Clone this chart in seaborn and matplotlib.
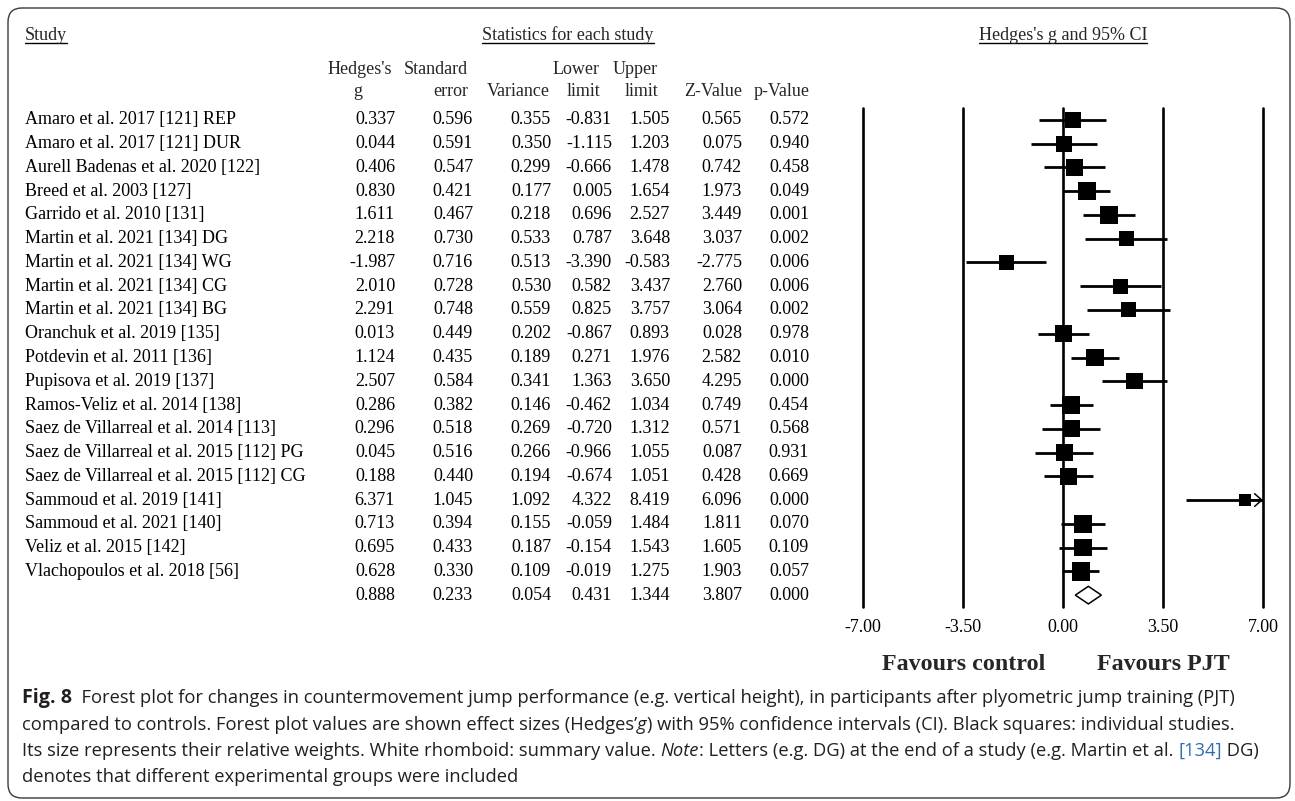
import numpy as np
import pandas as pd
import matplotlib
matplotlib.use("Agg")
import matplotlib.pyplot as plt
import seaborn as sns
from matplotlib.patches import FancyBboxPatch, Polygon
from matplotlib.lines import Line2D
from matplotlib.transforms import blended_transform_factory

studies = [
    "Amaro et al. 2017 [121] REP",
    "Amaro et al. 2017 [121] DUR",
    "Aurell Badenas et al. 2020 [122]",
    "Breed et al. 2003 [127]",
    "Garrido et al. 2010 [131]",
    "Martin et al. 2021 [134] DG",
    "Martin et al. 2021 [134] WG",
    "Martin et al. 2021 [134] CG",
    "Martin et al. 2021 [134] BG",
    "Oranchuk et al. 2019 [135]",
    "Potdevin et al. 2011 [136]",
    "Pupisova et al. 2019 [137]",
    "Ramos-Veliz et al. 2014 [138]",
    "Saez de Villarreal et al. 2014 [113]",
    "Saez de Villarreal et al. 2015 [112] PG",
    "Saez de Villarreal et al. 2015 [112] CG",
    "Sammoud et al. 2019 [141]",
    "Sammoud et al. 2021 [140]",
    "Veliz et al. 2015 [142]",
    "Vlachopoulos et al. 2018 [56]",
]
hedges_g = [0.337, 0.044, 0.406, 0.830, 1.611, 2.218, -1.987, 2.010, 2.291, 0.013,
            1.124, 2.507, 0.286, 0.296, 0.045, 0.188, 6.371, 0.713, 0.695, 0.628]
std_err = [0.596, 0.591, 0.547, 0.421, 0.467, 0.730, 0.716, 0.728, 0.748, 0.449,
           0.435, 0.584, 0.382, 0.518, 0.516, 0.440, 1.045, 0.394, 0.433, 0.330]
variance = [0.355, 0.350, 0.299, 0.177, 0.218, 0.533, 0.513, 0.530, 0.559, 0.202,
            0.189, 0.341, 0.146, 0.269, 0.266, 0.194, 1.092, 0.155, 0.187, 0.109]
lower = [-0.831, -1.115, -0.666, 0.005, 0.696, 0.787, -3.390, 0.582, 0.825, -0.867,
         0.271, 1.363, -0.462, -0.720, -0.966, -0.674, 4.322, -0.059, -0.154, -0.019]
upper = [1.505, 1.203, 1.478, 1.654, 2.527, 3.648, -0.583, 3.437, 3.757, 0.893,
         1.976, 3.650, 1.034, 1.312, 1.055, 1.051, 8.419, 1.484, 1.543, 1.275]
z_value = [0.565, 0.075, 0.742, 1.973, 3.449, 3.037, -2.775, 2.760, 3.064, 0.028,
           2.582, 4.295, 0.749, 0.571, 0.087, 0.428, 6.096, 1.811, 1.605, 1.903]
p_value = [0.572, 0.940, 0.458, 0.049, 0.001, 0.002, 0.006, 0.006, 0.002, 0.978,
           0.010, 0.000, 0.454, 0.568, 0.931, 0.669, 0.000, 0.070, 0.109, 0.057]

# summary row: g, SE, variance, lower, upper, Z, p
summary = [0.888, 0.233, 0.054, 0.431, 1.344, 3.807, 0.000]

xticks = [-7.0, -3.5, 0.0, 3.5, 7.0]
header_top = ["Hedges's", "Standard", "", "Lower", "Upper", "", ""]
header_bot = ["g", "error", "Variance", "limit", "limit", "Z-Value", "p-Value"]

df = pd.DataFrame({"study": studies, "g": hedges_g, "se": std_err, "var": variance,
                   "lo": lower, "hi": upper, "z": z_value, "p": p_value})
df["row"] = np.arange(len(df))

# random-effects (DerSimonian-Laird) weights -> square sizes
wf = 1 / df["var"]
q = (wf * df["g"] ** 2).sum() - (wf * df["g"]).sum() ** 2 / wf.sum()
c = wf.sum() - (wf ** 2).sum() / wf.sum()
tau2 = max(0.0, (q - (len(df) - 1)) / c)
df["w"] = 1 / (df["var"] + tau2)

sns.set_theme(style="white")
plt.rcParams["font.family"] = ["Liberation Serif", "DejaVu Serif"]

W, H = 1295, 801
fig = plt.figure(figsize=(W / 100, H / 100), dpi=100)


def fx(px):
    return px / W


def fy(py):
    return 1 - py / H


ax = fig.add_axes([fx(863), fy(607), fx(1263) - fx(863), fy(108) - fy(607)])
ax.set_xlim(-7, 7)
ax.set_ylim(len(df) + 0.5, -0.5)
ax.patch.set_alpha(0)
for s in ax.spines.values():
    s.set_visible(False)

for t in xticks:
    ax.axvline(t, color="black", lw=1.9, clip_on=False, zorder=1)

xmax = xticks[-1]
ax.hlines(df["row"], df["lo"], df["hi"].clip(upper=xmax), color="black", lw=2, zorder=2)
for _, r in df[df["hi"] > xmax].iterrows():
    ax.annotate("", xy=(xmax, r["row"]), xytext=(r["g"], r["row"]),
                arrowprops=dict(arrowstyle="->,head_length=0.4,head_width=0.35", lw=1.1,
                                color="black", mutation_scale=13, shrinkA=0, shrinkB=0),
                zorder=2)

smax = 13.2 ** 2
sns.scatterplot(data=df, x="g", y="row", size="w",
                sizes=(smax * df["w"].min() / df["w"].max(), smax),
                marker="s", color="black", linewidth=0, legend=False, ax=ax, zorder=3)

srow = len(df)
h = 0.37
ax.add_patch(Polygon([(summary[3], srow), (summary[0], srow - h), (summary[4], srow), (summary[0], srow + h)],
                     closed=True, facecolor="white", edgecolor="black", lw=1.1, zorder=3))

ax.set_xticks(xticks)
ax.set_xticklabels([f"{t:.2f}" for t in xticks])
ax.tick_params(axis="x", length=0, pad=9, labelsize=13, colors="black")
ax.set_yticks([])
ax.set_xlabel("")
ax.set_ylabel("")

# table
trans = blended_transform_factory(fig.transFigure, ax.transData)
col_right = [395, 473, 551, 612, 670, 742, 809]
cols = ["g", "se", "var", "lo", "hi", "z", "p"]
fs = 13
for _, r in df.iterrows():
    ax.text(fx(25), r["row"], r["study"], transform=trans, ha="left", va="center",
            fontsize=fs, color="black")
    for cx, cname in zip(col_right, cols):
        ax.text(fx(cx), r["row"], f"{r[cname]:.3f}", transform=trans, ha="right",
                va="center", fontsize=fs, color="black")
for cx, v in zip(col_right, summary):
    ax.text(fx(cx), srow, f"{v:.3f}", transform=trans, ha="right", va="center",
            fontsize=fs, color="black")

hdr_right = [392, 468, 550, 600, 658, 742, 810]
for i, (cx, t1, t2) in enumerate(zip(hdr_right, header_top, header_bot)):
    fig.text(fx(cx), fy(70), t1, ha="right", va="center", fontsize=fs)
    if i == 0:
        fig.text(fx(358), fy(91), t2, ha="center", va="center", fontsize=fs)
    else:
        fig.text(fx(cx), fy(91), t2, ha="right", va="center", fontsize=fs)

titles = [
    fig.text(fx(25), fy(35), "Study", ha="left", va="center", fontsize=fs),
    fig.text(fx(568), fy(35), "Statistics for each study", ha="center", va="center", fontsize=fs),
    fig.text(fx(1063), fy(35), "Hedges's g and 95% CI", ha="center", va="center", fontsize=fs),
]

fig.text(fx(964), fy(665), "Favours control", ha="center", va="center", fontsize=17.3, fontweight="bold")
fig.text(fx(1163), fy(665), "Favours PJT", ha="center", va="center", fontsize=17.3, fontweight="bold")

# rounded frame
frame = FancyBboxPatch((8, 3), 1282, 790, boxstyle="round,pad=0,rounding_size=14",
                       transform=None, facecolor="none", edgecolor="#3a3a3a", lw=1.0)
fig.add_artist(frame)

fig.canvas.draw()
renderer = fig.canvas.get_renderer()
for t in titles:
    bb = t.get_window_extent(renderer)
    fig.add_artist(Line2D([bb.x0, bb.x1], [bb.y0 + 1, bb.y0 + 1], transform=None,
                          color="black", lw=1.0))

# caption with mixed styles
cap_font = ["Liberation Sans Narrow", "Open Sans"]
cap_color = "#231f20"
cap_fs = 13.2
base = dict(family=cap_font, fontsize=cap_fs, color=cap_color)
caption = [
    [("Fig. 8", dict(fontweight="bold", fontsize=cap_fs + 1)),
     ("  Forest plot for changes in countermovement jump performance (e.g. vertical height), "
      "in participants after plyometric jump training (PJT)", {})],
    [("compared to controls. Forest plot values are shown effect sizes (Hedges\u2019", {}),
     ("g", dict(style="italic")),
     (") with 95% confidence intervals (CI). Black squares: individual studies.", {})],
    [("Its size represents their relative weights. White rhomboid: summary value. ", {}),
     ("Note", dict(style="italic")),
     (": Letters (e.g. DG) at the end of a study (e.g. Martin et al. ", {}),
     ("[134]", dict(color="#2f6db5")),
     (" DG)", {})],
    [("denotes that different experimental groups were included", {})],
]
for i, parts in enumerate(caption):
    x = 22
    y = 703 + i * 26.5
    for text, kw in parts:
        style = dict(base)
        style.update(kw)
        t = fig.text(fx(x), fy(y), text, ha="left", va="baseline", **style)
        x += t.get_window_extent(renderer).width

fig.savefig("out.png", dpi=100, facecolor="white")
